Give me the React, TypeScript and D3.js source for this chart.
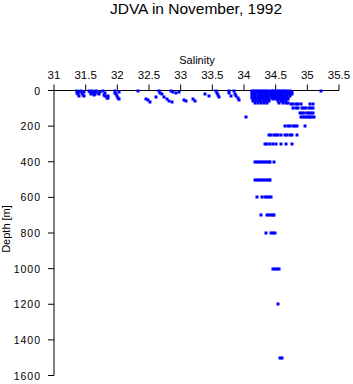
import * as d3 from "d3";

// shallow stations on the shelf, fresher than 34 psu: [salinity, depth m]
const shelfCasts: [number, number][] = [
  [31.36, 2], [31.37, 12], [31.38, 22], [31.39, 32], [31.40, 8],
  [31.43, 3], [31.44, 14], [31.46, 24], [31.48, 8], [31.47, 30],
  [31.56, 2], [31.57, 10], [31.58, 20], [31.60, 5], [31.61, 15], [31.63, 25], [31.64, 6], [31.65, 18],
  [31.67, 3], [31.69, 12], [31.71, 20], [31.73, 8],
  [31.77, 2], [31.79, 24], [31.81, 32], [31.83, 40], [31.85, 30], [31.86, 40], [31.80, 14],
  [31.96, 2], [31.97, 12], [31.98, 22], [32.0, 32], [32.01, 42], [32.03, 48], [32.02, 8],
  [32.33, 3],
  [32.46, 45], [32.49, 55], [32.52, 63],
  [32.61, 38],
  [32.66, 2], [32.68, 12], [32.70, 22], [32.73, 34],
  [32.78, 48], [32.82, 58], [32.86, 64],
  [32.84, 3], [32.88, 6], [32.92, 12],
  [32.98, 10],
  [33.06, 55], [33.09, 60],
  [33.19, 50], [33.22, 60],
  [33.38, 20], [33.45, 30],
  [33.56, 4], [33.57, 14], [33.59, 24], [33.60, 34],
  [33.76, 4], [33.77, 16], [33.79, 30],
  [33.84, 4], [33.86, 18], [33.88, 30], [33.90, 42], [33.92, 52],
  [34.03, 150],
];

// mixed layer blob, 0-80 m
const mixedDepths = [0, 10, 20, 30, 40, 50, 60, 72];
const mixedSal: number[][] = [
  [34.13, 34.16, 34.19, 34.22, 34.26, 34.29, 34.32, 34.35, 34.38, 34.42, 34.45, 34.48, 34.52, 34.55, 34.58, 34.62, 34.65, 34.68, 34.72, 35.21],
  [34.12, 34.15, 34.18, 34.21, 34.25, 34.28, 34.31, 34.34, 34.37, 34.41, 34.44, 34.47, 34.51, 34.54, 34.57, 34.61, 34.64, 34.67, 34.71, 34.75],
  [34.13, 34.16, 34.19, 34.23, 34.26, 34.29, 34.33, 34.36, 34.39, 34.43, 34.46, 34.49, 34.52, 34.56, 34.59, 34.62, 34.66, 34.69, 34.73, 34.76],
  [34.12, 34.15, 34.18, 34.22, 34.25, 34.28, 34.32, 34.35, 34.38, 34.42, 34.45, 34.48, 34.51, 34.55, 34.58, 34.61, 34.65, 34.68, 34.72],
  [34.13, 34.17, 34.20, 34.24, 34.27, 34.30, 34.34, 34.37, 34.40, 34.44, 34.47, 34.50, 34.54, 34.57, 34.60, 34.63, 34.67, 34.70],
  [34.14, 34.18, 34.22, 34.25, 34.29, 34.33, 34.36, 34.40, 34.46, 34.50, 34.55, 34.60, 34.64, 34.70],
  [34.15, 34.19, 34.23, 34.27, 34.31, 34.35, 34.39, 34.54, 34.58, 34.62, 34.66],
  [34.17, 34.22, 34.27, 34.32, 34.37, 34.56, 34.61, 34.66, 34.70],
];

// below the mixed layer
const deepDepths = [75, 100, 125, 150, 200, 250, 300, 400, 500, 600, 700, 800, 1000, 1200, 1500];
const deepSal: number[][] = [
  [34.74, 34.78, 34.82, 34.86, 34.90, 35.05, 35.09],
  [34.78, 34.82, 34.85, 34.91, 34.94, 34.98, 35.02, 35.06, 35.09],
  [34.88, 34.91, 34.94, 35.00, 35.03, 35.06, 35.09],
  [34.90, 34.93, 34.96, 34.99, 35.02, 35.05, 35.08, 35.11],
  [34.65, 34.69, 34.73, 34.77, 34.81, 34.84, 34.97],
  [34.39, 34.43, 34.47, 34.51, 34.53, 34.59, 34.64, 34.68, 34.72, 34.76, 34.83],
  [34.33, 34.37, 34.41, 34.45, 34.50, 34.59, 34.66, 34.75],
  [34.18, 34.21, 34.24, 34.27, 34.30, 34.33, 34.36, 34.39, 34.41, 34.48],
  [34.18, 34.21, 34.24, 34.27, 34.30, 34.33, 34.36, 34.39, 34.41],
  [34.21, 34.28, 34.33, 34.36, 34.39, 34.43],
  [34.27, 34.36, 34.39, 34.42, 34.46, 34.48],
  [34.35, 34.43, 34.46, 34.49],
  [34.46, 34.49, 34.52, 34.55],
  [34.54],
  [34.57, 34.60],
];

const salTicks = [31, 31.5, 32, 32.5, 33, 33.5, 34, 34.5, 35, 35.5];
const depthTicks = [0, 200, 400, 600, 800, 1000, 1200, 1400, 1600];

const W = 353;
const H = 384;

export default function App() {
  const x = d3.scaleLinear().domain([31, 35.5]).range([54, 339]);
  const y = d3.scaleLinear().domain([0, 1600]).range([90.5, 375.5]);

  const pts: [number, number][] = [...shelfCasts];
  mixedDepths.forEach((d, i) => mixedSal[i].forEach((s) => pts.push([s, d])));
  deepDepths.forEach((d, i) => deepSal[i].forEach((s) => pts.push([s, d])));

  const font = "'Liberation Sans', Arial, sans-serif";

  return (
    <svg width={W} height={H} style={{ position: "absolute", left: 0, top: 0, background: "#fff" }} fontFamily={font}>
      <text x={196} y={14} fontSize={15.5} textAnchor="middle">JDVA in November, 1992</text>
      <text x={197} y={64} fontSize={11} textAnchor="middle">Salinity</text>

      {/* top axis */}
      <line x1={49} x2={x(35.5)} y1={y(0)} y2={y(0)} stroke="#000" />
      {salTicks.map((t) => (
        <g key={t}>
          <line x1={x(t)} x2={x(t)} y1={y(0)} y2={y(0) - 6} stroke="#000" />
          <text x={x(t)} y={79} fontSize={11.5} textAnchor="middle">{String(t)}</text>
        </g>
      ))}

      {/* left axis */}
      <line x1={x(31)} x2={x(31)} y1={y(0)} y2={y(1600)} stroke="#000" />
      {depthTicks.map((t) => (
        <g key={t}>
          <line x1={x(31) - 6} x2={x(31)} y1={y(t)} y2={y(t)} stroke="#000" />
          <text x={41} y={y(t) + 4} fontSize={10.5} letterSpacing={1} textAnchor="end">{String(t)}</text>
        </g>
      ))}
      <text transform={`translate(10,${229}) rotate(-90)`} fontSize={11} textAnchor="middle">Depth [m]</text>

      {pts.map(([s, d], i) => (
        <rect key={i} x={Math.round(x(s)) - 1.5} y={Math.round(y(d)) - 1.5} width={3} height={3} fill="#0000ff" />
      ))}
    </svg>
  );
}
